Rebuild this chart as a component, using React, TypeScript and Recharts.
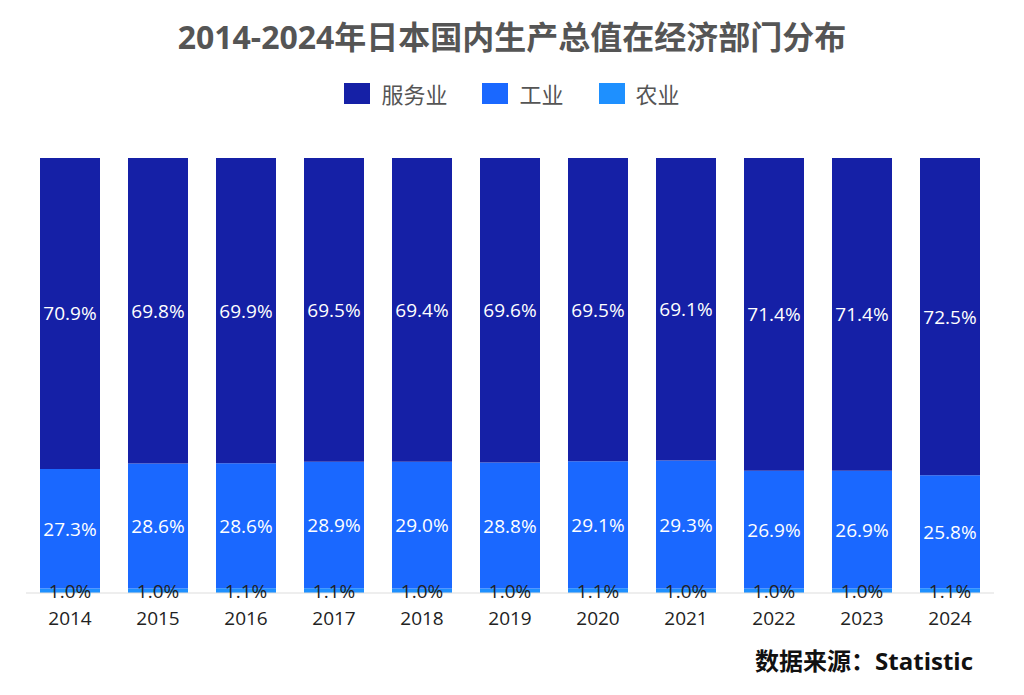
import React from "react";
import { BarChart, Bar, XAxis, YAxis } from "recharts";

const years = ["2014", "2015", "2016", "2017", "2018", "2019", "2020", "2021", "2022", "2023", "2024"];
const serviceVals = [70.9, 69.8, 69.9, 69.5, 69.4, 69.6, 69.5, 69.1, 71.4, 71.4, 72.5];
const industryVals = [27.3, 28.6, 28.6, 28.9, 29.0, 28.8, 29.1, 29.3, 26.9, 26.9, 25.8];
const agriVals = [1.0, 1.0, 1.1, 1.1, 1.0, 1.0, 1.1, 1.0, 1.0, 1.0, 1.1];

const seriesNames = { service: "服务业", industry: "工业", agri: "农业" };
const colors = { service: "#1520A6", industry: "#1A68FF", agri: "#1E90FF" };

const data = years.map((y, i) => ({
  year: y,
  service: serviceVals[i],
  industry: industryVals[i],
  agri: agriVals[i],
}));

const FONT = "'Open Sans', 'Noto Sans CJK SC', sans-serif";

const makeLabel = (vals: number[], fill: string) => (props: any) => {
  const { x, y, width, height, index } = props;
  const v = vals[index];
  return (
    <text
      key={`lbl-${index}`}
      x={x + width / 2}
      y={y + height / 2}
      fill={fill}
      fontSize={19}
      fontFamily={FONT}
      textAnchor="middle"
      dominantBaseline="central"
    >
      {v.toFixed(1)}%
    </text>
  );
};

const legendItems = [
  { key: "service", name: seriesNames.service, color: colors.service },
  { key: "industry", name: seriesNames.industry, color: colors.industry },
  { key: "agri", name: seriesNames.agri, color: colors.agri },
];

const CustomLegend = () => (
  <div
    style={{
      position: "absolute",
      top: 78,
      left: 0,
      width: 1024,
      height: 30,
      display: "flex",
      justifyContent: "center",
      alignItems: "center",
      fontFamily: "'Noto Sans CJK SC', sans-serif",
      fontSize: 22,
      color: "#555",
    }}
  >
    {legendItems.map((it, i) => (
      <div key={it.key} style={{ display: "flex", alignItems: "center", marginLeft: i === 0 ? 0 : 35 }}>
        <div style={{ width: 26, height: 21, background: it.color, marginRight: 11 }} />
        <span>{it.name}</span>
      </div>
    ))}
  </div>
);

export default function App() {
  return (
    <div
      style={{
        position: "absolute",
        left: 0,
        top: 0,
        width: 1024,
        height: 695,
        background: "#fff",
        fontFamily: FONT,
      }}
    >
      <div
        style={{
          position: "absolute",
          top: 14,
          left: 0,
          width: 1024,
          textAlign: "center",
          fontSize: 32,
          fontWeight: 700,
          color: "#555",
          lineHeight: "46px",
        }}
      >
        2014-2024年日本国内生产总值在经济部门分布
      </div>
      <CustomLegend />
      <BarChart
        width={1024}
        height={695}
        data={data}
        stackOffset="expand"
        margin={{ top: 158, right: 30, bottom: 72, left: 26 }}
      >
        <XAxis
          dataKey="year"
          axisLine={{ stroke: "#ddd" }}
          tickLine={false}
          tick={{ fill: "#222", fontSize: 19, fontFamily: FONT }}
          tickMargin={13}
          height={30}
        />
        <YAxis hide domain={[0, 1]} />
        <Bar dataKey="agri" name={seriesNames.agri} stackId="a" fill={colors.agri} barSize={60} isAnimationActive={false} label={makeLabel(agriVals, "#222")} />
        <Bar dataKey="industry" name={seriesNames.industry} stackId="a" fill={colors.industry} barSize={60} isAnimationActive={false} label={makeLabel(industryVals, "#fff")} />
        <Bar dataKey="service" name={seriesNames.service} stackId="a" fill={colors.service} barSize={60} isAnimationActive={false} label={makeLabel(serviceVals, "#fff")} />
      </BarChart>
      <div
        style={{
          position: "absolute",
          right: 51,
          top: 644,
          fontSize: 24,
          fontWeight: 700,
          color: "#111",
          lineHeight: "34px",
        }}
      >
        数据来源：Statistic
      </div>
    </div>
  );
}
